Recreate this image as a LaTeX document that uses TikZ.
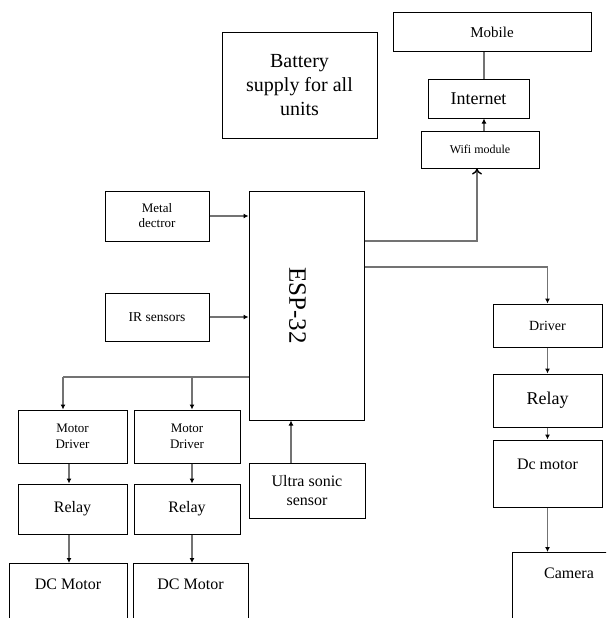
\documentclass[tikz,border=0pt]{standalone}
\usepackage{fontspec}
\setmainfont{Liberation Serif}
\usetikzlibrary{arrows.meta}

\newcommand{\fsz}[2]{\fontsize{#1}{#2}\selectfont}

\begin{document}
\begin{tikzpicture}[x=1pt,y=-1pt,
		box/.style={draw,line width=1pt,inner sep=0pt,align=center},
		link/.style={draw=black!55,line width=1.4pt},
		arr/.style={link,-{Latex[length=5pt,width=5pt,black]}}]
				\useasboundingbox (0,0) rectangle (606,618);
				\clip (0,0) rectangle (606,618);
				
				% columns and bends of the connectors
				\coordinate (upx) at (484,0);
				\coordinate (colA) at (69,0);
				\coordinate (colB) at (192,0);
				\coordinate (ux) at (291,0);
				\coordinate (wbend) at (477,241);
				\coordinate (dbend) at (547.5,267);
				\coordinate (lbend) at (63,377);
				\coordinate (lbend2) at (192,377);
				
				\node[box,minimum width=155,minimum height=105,font=\fsz{20}{24}] (battery) at (299.5,85.5) {Battery\\supply for all\\units};
				
				\node[box,minimum width=198,minimum height=39,font=\fsz{15}{18}] (mobile) at (492,32.5) {Mobile};
				\node[box,minimum width=101,minimum height=39,font=\fsz{18}{21}] (internet) at (478.5,98.5) {Internet};
				\node[box,minimum width=118,minimum height=37,font=\fsz{12}{14}] (wifi) at (480,149.5) {Wifi module};
				
				\node[box,minimum width=115,minimum height=229] (esp) at (306.5,305.5) {};
				\node[rotate=-90,font=\fsz{25}{30}] (esplabel) at ([xshift=-9pt]esp.center) {ESP-32};
				
				\node[box,minimum width=104,minimum height=50,font=\fsz{13}{15}] (metal) at (157,216) {Metal\\dectror};
				\node[box,minimum width=104,minimum height=48,font=\fsz{13.5}{16}] (ir) at (157,317) {IR sensors};
				
				\node[box,minimum width=109,minimum height=53,font=\fsz{13}{16.5}] (md1) at (72.5,436.5) {Motor\\Driver};
				\node[box,minimum width=106,minimum height=53,font=\fsz{13}{16.5}] (md2) at (187,436.5) {Motor\\Driver};
				\node[box,minimum width=109,minimum height=50,font=\fsz{16}{19}] (relay1) at (72.5,509) {Relay};
				\node[box,minimum width=106,minimum height=50,font=\fsz{16}{19}] (relay2) at (187,509) {Relay};
				\node[box,minimum width=118,inner ysep=15,text height=11,text depth=70,anchor=north,font=\fsz{16}{19}] (dcm1) at (68,563) {DC Motor};
				\node[box,minimum width=115,inner ysep=15,text height=11,text depth=70,anchor=north,font=\fsz{16}{19}] (dcm2) at (190.5,563) {DC Motor};
				
				\node[box,minimum width=116,minimum height=55,font=\fsz{16}{19}] (ultra) at (307,490.5) {Ultra sonic\\sensor};
				
				\node[box,minimum width=109,minimum height=43,font=\fsz{14}{17}] (driver) at (547.5,325.5) {Driver};
				\node[box,minimum width=109,minimum height=53,font=\fsz{18}{21}] (relay3) at (547.5,400.5) {Relay};
				\node[box,minimum width=109,minimum height=67,text height=11,text depth=20,font=\fsz{16}{19}] (dcmotor) at (547.5,473.5) {Dc motor};
				\node[box,minimum width=114,inner ysep=15,text height=11,text depth=70,anchor=north,font=\fsz{16}{19}] (camera) at (569,552) {Camera};
				
				% top right chain
				\draw[link] (internet.north -| upx) -- (mobile.south -| upx);
				\draw[arr] (wifi.north -| upx) -- (internet.south -| upx);
				\draw[link,-{To[length=6pt,width=10pt,black]}] (wbend -| esp.east) -- (wbend) -- (wifi.south -| wbend);
				
				% inputs
				\draw[arr] (metal.east) -- (metal.east -| esp.west);
				\draw[arr] (ir.east) -- (ir.east -| esp.west);
				\draw[arr] (ux |- ultra.north) -- (ux |- esp.south);
				
				% left outputs
				\draw[link] (lbend -| esp.west) -- (lbend);
				\draw[arr] (lbend) -- (lbend |- md1.north);
				\draw[arr] (lbend2) -- (lbend2 |- md2.north);
				\draw[arr] (colA |- md1.south) -- (colA |- relay1.north);
				\draw[arr] (colA |- relay1.south) -- (colA |- dcm1.north);
				\draw[arr] (colB |- md2.south) -- (colB |- relay2.north);
				\draw[arr] (colB |- relay2.south) -- (colB |- dcm2.north);
				
				% right outputs
				\draw[arr] (dbend -| esp.east) -| (driver.north);
				\draw[arr] (driver) -- (relay3);
				\draw[arr] (relay3) -- (dcmotor);
				\draw[arr] (dcmotor.south) -- (dcmotor.south |- camera.north);
			\end{tikzpicture}
\end{document}
